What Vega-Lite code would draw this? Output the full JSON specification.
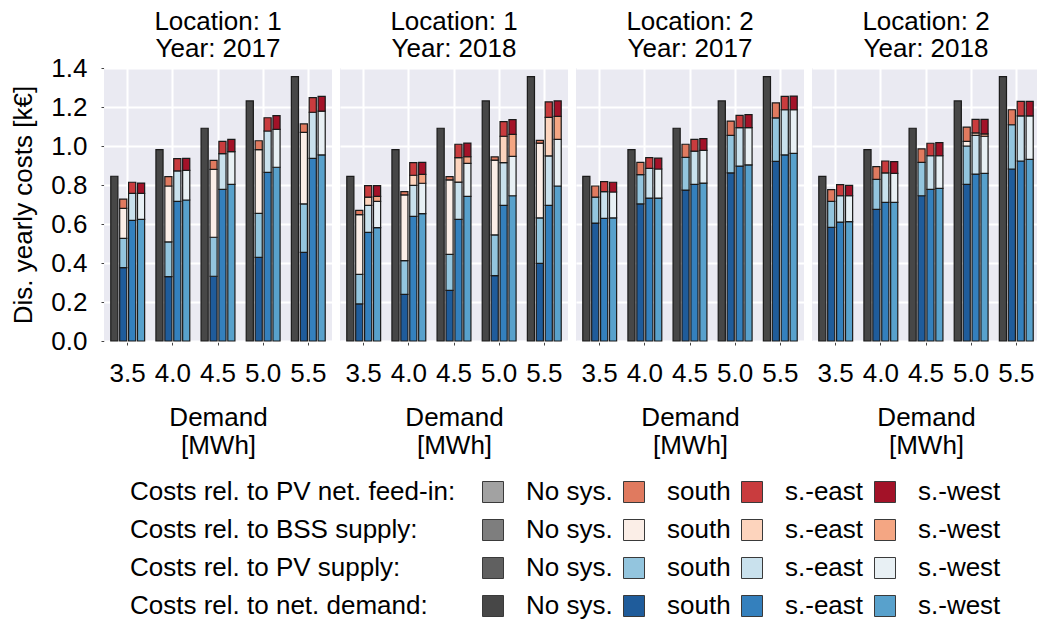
{
  "$schema": "https://vega.github.io/schema/vega-lite/v6.json",
  "padding": {"left": 10, "top": 9, "right": 0, "bottom": 0},
  "background": "white",
  "data": {
    "values": [
      {"loc": 1, "year": 2017, "demand": "3.5", "sys": "No sys.", "nd": 0.845, "pv": 0, "bss": 0, "fi": 0},
      {"loc": 1, "year": 2017, "demand": "3.5", "sys": "south", "nd": 0.376, "pv": 0.150, "bss": 0.154, "fi": 0.048},
      {"loc": 1, "year": 2017, "demand": "3.5", "sys": "s.-east", "nd": 0.619, "pv": 0.138, "bss": 0, "fi": 0.057},
      {"loc": 1, "year": 2017, "demand": "3.5", "sys": "s.-west", "nd": 0.624, "pv": 0.133, "bss": 0, "fi": 0.053},
      {"loc": 1, "year": 2017, "demand": "4.0", "sys": "No sys.", "nd": 0.981, "pv": 0, "bss": 0, "fi": 0},
      {"loc": 1, "year": 2017, "demand": "4.0", "sys": "south", "nd": 0.330, "pv": 0.178, "bss": 0.287, "fi": 0.048},
      {"loc": 1, "year": 2017, "demand": "4.0", "sys": "s.-east", "nd": 0.716, "pv": 0.156, "bss": 0, "fi": 0.063},
      {"loc": 1, "year": 2017, "demand": "4.0", "sys": "s.-west", "nd": 0.723, "pv": 0.152, "bss": 0, "fi": 0.062},
      {"loc": 1, "year": 2017, "demand": "4.5", "sys": "No sys.", "nd": 1.091, "pv": 0, "bss": 0, "fi": 0},
      {"loc": 1, "year": 2017, "demand": "4.5", "sys": "south", "nd": 0.332, "pv": 0.200, "bss": 0.348, "fi": 0.046},
      {"loc": 1, "year": 2017, "demand": "4.5", "sys": "s.-east", "nd": 0.778, "pv": 0.183, "bss": 0, "fi": 0.063},
      {"loc": 1, "year": 2017, "demand": "4.5", "sys": "s.-west", "nd": 0.803, "pv": 0.168, "bss": 0, "fi": 0.063},
      {"loc": 1, "year": 2017, "demand": "5.0", "sys": "No sys.", "nd": 1.231, "pv": 0, "bss": 0, "fi": 0},
      {"loc": 1, "year": 2017, "demand": "5.0", "sys": "south", "nd": 0.429, "pv": 0.226, "bss": 0.326, "fi": 0.046},
      {"loc": 1, "year": 2017, "demand": "5.0", "sys": "s.-east", "nd": 0.865, "pv": 0.212, "bss": 0, "fi": 0.068},
      {"loc": 1, "year": 2017, "demand": "5.0", "sys": "s.-west", "nd": 0.891, "pv": 0.194, "bss": 0, "fi": 0.071},
      {"loc": 1, "year": 2017, "demand": "5.5", "sys": "No sys.", "nd": 1.356, "pv": 0, "bss": 0, "fi": 0},
      {"loc": 1, "year": 2017, "demand": "5.5", "sys": "south", "nd": 0.455, "pv": 0.248, "bss": 0.367, "fi": 0.043},
      {"loc": 1, "year": 2017, "demand": "5.5", "sys": "s.-east", "nd": 0.937, "pv": 0.236, "bss": 0, "fi": 0.075},
      {"loc": 1, "year": 2017, "demand": "5.5", "sys": "s.-west", "nd": 0.954, "pv": 0.225, "bss": 0, "fi": 0.076},

      {"loc": 1, "year": 2018, "demand": "3.5", "sys": "No sys.", "nd": 0.844, "pv": 0, "bss": 0, "fi": 0},
      {"loc": 1, "year": 2018, "demand": "3.5", "sys": "south", "nd": 0.190, "pv": 0.152, "bss": 0.306, "fi": 0.022},
      {"loc": 1, "year": 2018, "demand": "3.5", "sys": "s.-east", "nd": 0.557, "pv": 0.139, "bss": 0.042, "fi": 0.059},
      {"loc": 1, "year": 2018, "demand": "3.5", "sys": "s.-west", "nd": 0.581, "pv": 0.135, "bss": 0.026, "fi": 0.055},
      {"loc": 1, "year": 2018, "demand": "4.0", "sys": "No sys.", "nd": 0.981, "pv": 0, "bss": 0, "fi": 0},
      {"loc": 1, "year": 2018, "demand": "4.0", "sys": "south", "nd": 0.239, "pv": 0.173, "bss": 0.337, "fi": 0.017},
      {"loc": 1, "year": 2018, "demand": "4.0", "sys": "s.-east", "nd": 0.639, "pv": 0.159, "bss": 0.052, "fi": 0.065},
      {"loc": 1, "year": 2018, "demand": "4.0", "sys": "s.-west", "nd": 0.653, "pv": 0.156, "bss": 0.046, "fi": 0.061},
      {"loc": 1, "year": 2018, "demand": "4.5", "sys": "No sys.", "nd": 1.091, "pv": 0, "bss": 0, "fi": 0},
      {"loc": 1, "year": 2018, "demand": "4.5", "sys": "south", "nd": 0.260, "pv": 0.184, "bss": 0.382, "fi": 0.017},
      {"loc": 1, "year": 2018, "demand": "4.5", "sys": "s.-east", "nd": 0.624, "pv": 0.191, "bss": 0.125, "fi": 0.069},
      {"loc": 1, "year": 2018, "demand": "4.5", "sys": "s.-west", "nd": 0.742, "pv": 0.169, "bss": 0.034, "fi": 0.070},
      {"loc": 1, "year": 2018, "demand": "5.0", "sys": "No sys.", "nd": 1.231, "pv": 0, "bss": 0, "fi": 0},
      {"loc": 1, "year": 2018, "demand": "5.0", "sys": "south", "nd": 0.335, "pv": 0.209, "bss": 0.384, "fi": 0.016},
      {"loc": 1, "year": 2018, "demand": "5.0", "sys": "s.-east", "nd": 0.696, "pv": 0.219, "bss": 0.135, "fi": 0.075},
      {"loc": 1, "year": 2018, "demand": "5.0", "sys": "s.-west", "nd": 0.745, "pv": 0.202, "bss": 0.113, "fi": 0.075},
      {"loc": 1, "year": 2018, "demand": "5.5", "sys": "No sys.", "nd": 1.356, "pv": 0, "bss": 0, "fi": 0},
      {"loc": 1, "year": 2018, "demand": "5.5", "sys": "south", "nd": 0.398, "pv": 0.233, "bss": 0.384, "fi": 0.014},
      {"loc": 1, "year": 2018, "demand": "5.5", "sys": "s.-east", "nd": 0.696, "pv": 0.253, "bss": 0.198, "fi": 0.079},
      {"loc": 1, "year": 2018, "demand": "5.5", "sys": "s.-west", "nd": 0.795, "pv": 0.239, "bss": 0.118, "fi": 0.079},

      {"loc": 2, "year": 2017, "demand": "3.5", "sys": "No sys.", "nd": 0.844, "pv": 0, "bss": 0, "fi": 0},
      {"loc": 2, "year": 2017, "demand": "3.5", "sys": "south", "nd": 0.605, "pv": 0.133, "bss": 0, "fi": 0.057},
      {"loc": 2, "year": 2017, "demand": "3.5", "sys": "s.-east", "nd": 0.629, "pv": 0.137, "bss": 0, "fi": 0.051},
      {"loc": 2, "year": 2017, "demand": "3.5", "sys": "s.-west", "nd": 0.631, "pv": 0.133, "bss": 0, "fi": 0.050},
      {"loc": 2, "year": 2017, "demand": "4.0", "sys": "No sys.", "nd": 0.981, "pv": 0, "bss": 0, "fi": 0},
      {"loc": 2, "year": 2017, "demand": "4.0", "sys": "south", "nd": 0.703, "pv": 0.150, "bss": 0, "fi": 0.063},
      {"loc": 2, "year": 2017, "demand": "4.0", "sys": "s.-east", "nd": 0.733, "pv": 0.152, "bss": 0, "fi": 0.055},
      {"loc": 2, "year": 2017, "demand": "4.0", "sys": "s.-west", "nd": 0.733, "pv": 0.149, "bss": 0, "fi": 0.056},
      {"loc": 2, "year": 2017, "demand": "4.5", "sys": "No sys.", "nd": 1.091, "pv": 0, "bss": 0, "fi": 0},
      {"loc": 2, "year": 2017, "demand": "4.5", "sys": "south", "nd": 0.774, "pv": 0.168, "bss": 0, "fi": 0.067},
      {"loc": 2, "year": 2017, "demand": "4.5", "sys": "s.-east", "nd": 0.803, "pv": 0.171, "bss": 0, "fi": 0.060},
      {"loc": 2, "year": 2017, "demand": "4.5", "sys": "s.-west", "nd": 0.810, "pv": 0.168, "bss": 0, "fi": 0.060},
      {"loc": 2, "year": 2017, "demand": "5.0", "sys": "No sys.", "nd": 1.231, "pv": 0, "bss": 0, "fi": 0},
      {"loc": 2, "year": 2017, "demand": "5.0", "sys": "south", "nd": 0.862, "pv": 0.193, "bss": 0, "fi": 0.073},
      {"loc": 2, "year": 2017, "demand": "5.0", "sys": "s.-east", "nd": 0.897, "pv": 0.197, "bss": 0, "fi": 0.063},
      {"loc": 2, "year": 2017, "demand": "5.0", "sys": "s.-west", "nd": 0.903, "pv": 0.191, "bss": 0, "fi": 0.067},
      {"loc": 2, "year": 2017, "demand": "5.5", "sys": "No sys.", "nd": 1.356, "pv": 0, "bss": 0, "fi": 0},
      {"loc": 2, "year": 2017, "demand": "5.5", "sys": "south", "nd": 0.921, "pv": 0.223, "bss": 0, "fi": 0.077},
      {"loc": 2, "year": 2017, "demand": "5.5", "sys": "s.-east", "nd": 0.954, "pv": 0.232, "bss": 0, "fi": 0.069},
      {"loc": 2, "year": 2017, "demand": "5.5", "sys": "s.-west", "nd": 0.962, "pv": 0.224, "bss": 0, "fi": 0.070},

      {"loc": 2, "year": 2018, "demand": "3.5", "sys": "No sys.", "nd": 0.844, "pv": 0, "bss": 0, "fi": 0},
      {"loc": 2, "year": 2018, "demand": "3.5", "sys": "south", "nd": 0.583, "pv": 0.133, "bss": 0, "fi": 0.060},
      {"loc": 2, "year": 2018, "demand": "3.5", "sys": "s.-east", "nd": 0.610, "pv": 0.135, "bss": 0, "fi": 0.057},
      {"loc": 2, "year": 2018, "demand": "3.5", "sys": "s.-west", "nd": 0.612, "pv": 0.133, "bss": 0, "fi": 0.053},
      {"loc": 2, "year": 2018, "demand": "4.0", "sys": "No sys.", "nd": 0.981, "pv": 0, "bss": 0, "fi": 0},
      {"loc": 2, "year": 2018, "demand": "4.0", "sys": "south", "nd": 0.675, "pv": 0.154, "bss": 0, "fi": 0.065},
      {"loc": 2, "year": 2018, "demand": "4.0", "sys": "s.-east", "nd": 0.711, "pv": 0.151, "bss": 0, "fi": 0.061},
      {"loc": 2, "year": 2018, "demand": "4.0", "sys": "s.-west", "nd": 0.711, "pv": 0.149, "bss": 0, "fi": 0.060},
      {"loc": 2, "year": 2018, "demand": "4.5", "sys": "No sys.", "nd": 1.091, "pv": 0, "bss": 0, "fi": 0},
      {"loc": 2, "year": 2018, "demand": "4.5", "sys": "south", "nd": 0.745, "pv": 0.171, "bss": 0, "fi": 0.069},
      {"loc": 2, "year": 2018, "demand": "4.5", "sys": "s.-east", "nd": 0.778, "pv": 0.172, "bss": 0, "fi": 0.064},
      {"loc": 2, "year": 2018, "demand": "4.5", "sys": "s.-west", "nd": 0.783, "pv": 0.167, "bss": 0, "fi": 0.067},
      {"loc": 2, "year": 2018, "demand": "5.0", "sys": "No sys.", "nd": 1.231, "pv": 0, "bss": 0, "fi": 0},
      {"loc": 2, "year": 2018, "demand": "5.0", "sys": "south", "nd": 0.803, "pv": 0.197, "bss": 0.024, "fi": 0.073},
      {"loc": 2, "year": 2018, "demand": "5.0", "sys": "s.-east", "nd": 0.856, "pv": 0.199, "bss": 0.012, "fi": 0.070},
      {"loc": 2, "year": 2018, "demand": "5.0", "sys": "s.-west", "nd": 0.860, "pv": 0.190, "bss": 0.012, "fi": 0.075},
      {"loc": 2, "year": 2018, "demand": "5.5", "sys": "No sys.", "nd": 1.356, "pv": 0, "bss": 0, "fi": 0},
      {"loc": 2, "year": 2018, "demand": "5.5", "sys": "south", "nd": 0.882, "pv": 0.227, "bss": 0, "fi": 0.077},
      {"loc": 2, "year": 2018, "demand": "5.5", "sys": "s.-east", "nd": 0.923, "pv": 0.231, "bss": 0, "fi": 0.075},
      {"loc": 2, "year": 2018, "demand": "5.5", "sys": "s.-west", "nd": 0.931, "pv": 0.223, "bss": 0, "fi": 0.075}
    ]
  },
  "transform": [
    {"fold": ["nd", "pv", "bss", "fi"], "as": ["comp", "value"]},
    {"filter": "datum.value > 0"},
    {"calculate": "datum.comp + '|' + datum.sys", "as": "key"},
    {"calculate": "indexof(['nd', 'pv', 'bss', 'fi'], datum.comp)", "as": "layer"},
    {"calculate": "datum.loc + '|' + datum.year", "as": "panel"}
  ],
  "facet": {
    "column": {
      "field": "panel",
      "type": "nominal",
      "title": null,
      "sort": ["1|2017", "1|2018", "2|2017", "2|2018"],
      "header": {
        "labelExpr": "['Location: ' + split(datum.value, '|')[0], 'Year: ' + split(datum.value, '|')[1]]",
        "labelFontSize": 26,
        "labelLineHeight": 27,
        "labelColor": "black",
        "labelPadding": 6
      }
    }
  },
  "spacing": 8,
  "spec": {
    "width": 228,
    "height": 273,
    "mark": {"type": "bar", "stroke": "#1a1a1a", "strokeWidth": 1.2},
    "encoding": {
      "x": {
        "field": "demand",
        "type": "ordinal",
        "scale": {"paddingInner": 0.25, "paddingOuter": 0.15},
        "axis": {
          "title": ["Demand", "[MWh]"],
          "labelAngle": 0,
          "grid": true,
          "bandPosition": 0.5,
          "labelPadding": 15,
          "titlePadding": 18,
          "titleLineHeight": 28
        }
      },
      "xOffset": {
        "field": "sys",
        "type": "nominal",
        "sort": ["No sys.", "south", "s.-east", "s.-west"],
        "scale": {"paddingInner": 0.2}
      },
      "y": {
        "field": "value",
        "type": "quantitative",
        "stack": "zero",
        "scale": {"domain": [0, 1.4], "nice": false},
        "axis": {
          "title": "Dis. yearly costs [k€]",
          "values": [0, 0.2, 0.4, 0.6, 0.8, 1.0, 1.2, 1.4],
          "format": ".1f",
          "labelPadding": 14,
          "titlePadding": 14
        }
      },
      "color": {
        "field": "key",
        "type": "nominal",
        "scale": {
          "domain": [
            "fi|No sys.", "fi|south", "fi|s.-east", "fi|s.-west",
            "bss|No sys.", "bss|south", "bss|s.-east", "bss|s.-west",
            "pv|No sys.", "pv|south", "pv|s.-east", "pv|s.-west",
            "nd|No sys.", "nd|south", "nd|s.-east", "nd|s.-west"
          ],
          "range": [
            "#a2a2a2", "#e07a5f", "#c93c3e", "#a31228",
            "#7e7e7e", "#fbeee7", "#fdd4bd", "#f4a683",
            "#606060", "#93c5de", "#c9e1ed", "#e8f0f4",
            "#474747", "#1f5c9b", "#3480bd", "#58a1cc"
          ]
        },
        "legend": {
          "orient": "none",
          "legendX": 26,
          "legendY": 411,
          "direction": "horizontal",
          "columns": 4,
          "title": [
            "Costs rel. to PV net. feed-in:",
            "Costs rel. to BSS supply:",
            "Costs rel. to PV supply:",
            "Costs rel. to net. demand:"
          ],
          "titleOrient": "left",
          "titleAnchor": "middle",
          "titleAlign": "left",
          "titleBaseline": "middle",
          "titleFontSize": 26,
          "titleFontWeight": "normal",
          "titleLineHeight": 38,
          "titleLimit": 600,
          "titlePadding": 24,
          "titleColor": "black",
          "symbolType": "square",
          "symbolSize": 441,
          "symbolStrokeColor": "#3a3a3a",
          "symbolStrokeWidth": 1,
          "symbolOpacity": 1,
          "labelFontSize": 26,
          "labelColor": "black",
          "labelOffset": 20,
          "labelLimit": 300,
          "labelExpr": "split(datum.label, '|')[1]",
          "columnPadding": 8,
          "rowPadding": 12,
          "gridAlign": "each"
        }
      },
      "order": {"field": "layer", "type": "quantitative"}
    }
  },
  "config": {
    "font": "Liberation Sans",
    "view": {"fill": "#eaeaf2", "stroke": null},
    "axis": {
      "domain": false,
      "labelFontSize": 26,
      "labelColor": "black",
      "titleFontSize": 26,
      "titleFontWeight": "normal",
      "titleColor": "black",
      "gridColor": "white",
      "gridWidth": 2,
      "gridOpacity": 1,
      "tickSize": 3,
      "tickColor": "#444444"
    }
  }
}
